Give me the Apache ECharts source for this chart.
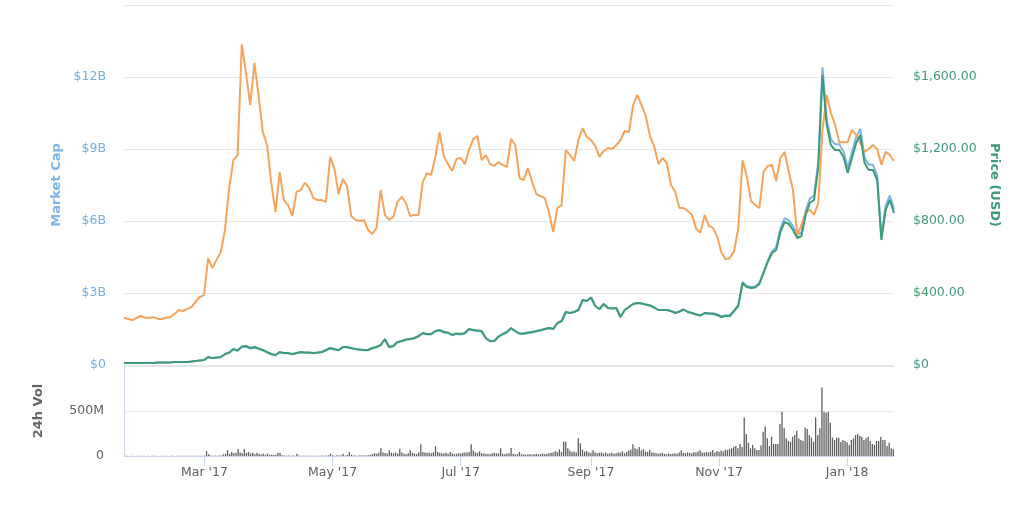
<!DOCTYPE html>
<html><head><meta charset="utf-8">
<script src="https://cdn.jsdelivr.net/npm/echarts@6/dist/echarts.min.js"></script>
<style>html,body{margin:0;padding:0;background:#fff}#chart{width:1024px;height:511px}</style>
</head><body><div id="chart"></div>
<script>
// ---- data ----
const startDate = '2017-01-22';
const endDate = '2018-01-23';
const lineStepDays = 2;           // line samples every 2 days from startDate
const volStepDays = 1;            // volume bars every day from startDate
const monthNames = ['Jan','Feb','Mar','Apr','May','Jun','Jul','Aug','Sep','Oct','Nov','Dec'];

// Price (USD)
const priceUSD = [
11.1,11.1,11.1,11.1,11.1,11.1,11.1,11.1,13.9,13.9,
13.9,13.9,16.7,16.7,16.7,16.7,19.4,22.2,25.0,27.8,
44.4,38.9,41.7,44.4,61.1,69.4,88.9,80.6,102.8,105.6,
94.4,100,91.7,83.3,72.2,61.1,55.6,72.2,66.7,66.7,
61.1,66.7,72.2,69.4,69.4,66.7,69.4,72.2,83.3,94.4,
88.9,83.3,100,100,94.4,88.9,86.1,83.3,83.3,94.4,
100,111.1,144.4,100,105.6,127.8,133.3,141.7,144.4,150,
161.1,177.8,172.2,172.2,188.9,194.4,183.3,180.6,166.7,175,
172.2,177.8,200,194.4,191.7,188.9,150,133.3,133.3,158.3,
172.2,183.3,205.6,188.9,175,175,180.6,183.3,188.9,194.4,
200,205.6,200,233.3,244.4,294.4,288.9,294.4,305.6,361.1,
355.6,375,327.8,311.1,338.9,316.7,313.9,316.7,266.7,305.6,
322.2,338.9,344.4,341.7,336.1,330.6,319.4,305.6,305.6,305.6,
300,288.9,297.2,308.3,294.4,288.9,280.6,275,288.9,286.1,
283.3,277.8,266.7,272.2,272.2,300,327.8,455.6,433.3,427.8,
430.6,450,511.1,572.2,622.2,638.9,738.9,794.4,783.3,750,
705.6,716.7,833.3,900,916.7,1100,1611.1,1333.3,1222.2,1194.4,
1194.4,1155.6,1066.7,1150,1233.3,1277.8,1122.2,1083.3,1083.3,1027.8,
694.4,861.1,916.7,844.4
];

// Market Cap (billions USD)
const marketCapB = [
0.081,0.081,0.081,0.081,0.081,0.081,0.081,0.081,0.101,0.101,
0.101,0.101,0.122,0.122,0.122,0.122,0.142,0.162,0.183,0.203,
0.324,0.284,0.304,0.324,0.446,0.507,0.649,0.588,0.75,0.771,
0.689,0.73,0.669,0.608,0.527,0.446,0.406,0.527,0.487,0.487,
0.446,0.487,0.527,0.507,0.507,0.487,0.507,0.527,0.608,0.689,
0.649,0.608,0.74,0.74,0.699,0.658,0.637,0.616,0.616,0.699,
0.74,0.822,1.069,0.74,0.781,0.946,0.986,1.049,1.069,1.11,
1.192,1.316,1.274,1.274,1.398,1.439,1.356,1.336,1.234,1.295,
1.274,1.316,1.48,1.439,1.419,1.398,1.11,0.986,0.986,1.171,
1.274,1.356,1.521,1.398,1.295,1.295,1.336,1.356,1.398,1.439,
1.5,1.542,1.5,1.75,1.833,2.208,2.167,2.208,2.292,2.708,
2.667,2.813,2.459,2.333,2.542,2.375,2.354,2.375,2.0,2.292,
2.417,2.542,2.583,2.563,2.521,2.48,2.396,2.292,2.292,2.292,
2.25,2.167,2.229,2.313,2.208,2.167,2.105,2.063,2.167,2.146,
2.153,2.111,2.027,2.069,2.069,2.28,2.491,3.463,3.293,3.251,
3.273,3.42,3.884,4.349,4.729,4.92,5.69,6.117,6.031,5.775,
5.433,5.519,6.416,6.93,7.059,8.47,12.405,10.267,9.411,9.197,
9.197,8.898,8.214,8.855,9.497,9.839,8.641,8.341,8.341,7.914,
5.347,6.63,7.059,6.502
];

// Price (BTC) – drawn on a hidden axis
const priceBTC = [
0.0131,0.0128,0.0125,0.0131,0.0136,0.0131,0.0131,0.0133,0.0128,0.0128,
0.0131,0.0133,0.0142,0.0153,0.0150,0.0156,0.0161,0.0175,0.0189,0.0194,
0.0297,0.0269,0.0292,0.0314,0.0375,0.0492,0.0569,0.0583,0.0890,0.0811,
0.0722,0.0839,0.0747,0.0647,0.0611,0.0506,0.0425,0.0536,0.0458,0.0444,
0.0414,0.0481,0.0486,0.0506,0.0492,0.0464,0.0458,0.0458,0.0453,0.0578,
0.0547,0.0475,0.0517,0.0497,0.0414,0.0403,0.0400,0.0403,0.0375,0.0364,
0.0381,0.0486,0.0417,0.0403,0.0411,0.0453,0.0467,0.0450,0.0414,0.0417,
0.0417,0.0508,0.0533,0.0528,0.0578,0.0647,0.0581,0.0558,0.0539,0.0572,
0.0575,0.0558,0.0597,0.0628,0.0636,0.0569,0.0583,0.0558,0.0553,0.0564,
0.0556,0.0550,0.0628,0.0611,0.0519,0.0514,0.0547,0.0508,0.0475,0.0469,
0.0464,0.0425,0.0369,0.0436,0.0444,0.0597,0.0583,0.0567,0.0625,0.0658,
0.0633,0.0625,0.0608,0.0578,0.0594,0.0603,0.0600,0.0611,0.0625,0.0650,
0.0647,0.0722,0.0750,0.0722,0.0692,0.0636,0.0608,0.0558,0.0575,0.0561,
0.0500,0.0481,0.0436,0.0436,0.0428,0.0417,0.0378,0.0367,0.0417,0.0386,
0.0381,0.0356,0.0311,0.0294,0.0297,0.0317,0.0381,0.0569,0.0525,0.0456,
0.0444,0.0436,0.0536,0.0553,0.0556,0.0511,0.0575,0.0592,0.0536,0.0486,
0.0361,0.0389,0.0425,0.0431,0.0417,0.0450,0.0653,0.0750,0.0700,0.0667,
0.0619,0.0619,0.0619,0.0653,0.0639,0.0617,0.0592,0.0600,0.0611,0.0600,
0.0556,0.0592,0.0583,0.0567
];

// 24h Volume (millions USD), one per day
const volume24hM = [
1,2,1,2,1,1,2,2,1,2, 1,2,1,2,2,2,1,1,2,2, 2,1,2,2,1,2,3,2,2,3, 2,2,3,3,2,3,3,3,
4,55,20,5,4,5,3,5,6,
18,25,63,22,44,30,35,78,40,30, 78,35,44,28,37,20,37,22,18,26, 14,26,12,15,10,14,37,37,
8,5,4,6,3,5,4,26,5,3, 3,4,3,3,4,3,3,4,3,5, 4,6,
8,26,6,4,8,5,7,26,6,10, 44,14,6,5,4,7,5,6,8,9, 12,
22,30,25,35,89,40,33,28,63,35, 30,38,28,81,40,25,20,30,63,35, 28,22,40,
130,45,40,35,38,30,42,110,45,35,
30,28,35,25,44,30,22,25,30,28,
35,40,38,45,130,60,40,35,52,30,
28,22,25,20,30,35,28,30,85,25,
20,28,30,90,25,18,22,44,20,18,
15,18,22,15,20,25,18,22,28,20,
25,30,35,40,55,45,
74,45,159,159,85,60,45,50,40,196, 141,70,48,55,40,35,63,40,30,
35,40,30,38,25,30,35,25,30,40,
35,52,30,45,60,70,130,85,74,100,
60,75,50,45,70,40,35,30,25,30,
35,25,20,28,22,25,30,25,40,63,
35,30,40,35,30,45,38,50,63,40,
35,45,40,48,67,40,55,45,60,50,
70,65,75,
85,100,111,85,133,100,429,244,148,85,
122,85,67,67,118,270,330,196,111,215,
133,133,133,355,492,307,196,170,159,215,
233,281,196,178,167,318,300,233,204,159,
429,233,307,762,492,481,492,370,207,178,
204,204,155,178,167,152,122,178,196,233,
244,222,215,178,196,215,167,133,122,167,
167,215,178,178,111,148,85,74
];

// ---- chart ----
const DAY = 24 * 3600 * 1000;
function dayString(offset) {
  const p = startDate.split('-').map(Number);
  const d = new Date(Date.UTC(p[0], p[1] - 1, p[2] + offset));
  return d.toISOString().slice(0, 10);
}
const lineDates = priceUSD.map((_, i) => dayString(i * lineStepDays));
const volDates = volume24hM.map((_, i) => dayString(i * volStepDays));

const FONT = 'DejaVu Sans';
const BLUE = '#7cb5ec', GREEN = '#3f9b76', ORANGE = '#f7a35c';
const labelLift = { verticalAlign: 'middle', padding: [0, 0, 14, 0] };

const chart = echarts.init(document.getElementById('chart'));
chart.setOption({
  animation: false,
  textStyle: { fontFamily: FONT },
  grid: [
    { left: 124, width: 770, top: 5, height: 360 },
    { left: 124, width: 770, top: 366, height: 90 }
  ],
  xAxis: [
    { type: 'time', gridIndex: 0, min: startDate, max: endDate, show: false },
    { type: 'time', gridIndex: 1, min: startDate, max: endDate,
      splitNumber: 5, minInterval: 60 * DAY, maxInterval: 80 * DAY,
      axisLine: { lineStyle: { color: '#ccd6eb' } },
      axisTick: { show: true, length: 10, lineStyle: { color: '#ccd6eb' } },
      splitLine: { show: false },
      axisLabel: { color: '#606060', fontSize: 12.5, margin: 10, fontFamily: FONT,
        formatter: v => { const d = new Date(v); return monthNames[d.getMonth()] + " '" + String(d.getFullYear()).slice(2); } } }
  ],
  yAxis: [
    { type: 'value', gridIndex: 0, position: 'left', min: 0, max: 15, interval: 3,
      name: 'Market Cap', nameLocation: 'middle', nameGap: 60,
      nameTextStyle: { color: BLUE, fontWeight: 'bold', fontSize: 13, fontFamily: FONT },
      axisLine: { show: false }, axisTick: { show: false },
      splitLine: { lineStyle: { color: '#e6e6e6' } },
      axisLabel: Object.assign({ color: '#72b0e8', fontSize: 12.5, margin: 18, fontFamily: FONT,
        formatter: v => v === 15 ? '' : (v === 0 ? '$0' : '$' + v + 'B') }, labelLift) },
    { type: 'value', gridIndex: 0, position: 'right', min: 0, max: 2000, interval: 400,
      name: 'Price (USD)', nameLocation: 'middle', nameGap: 94, nameRotate: -90,
      nameTextStyle: { color: GREEN, fontWeight: 'bold', fontSize: 13, fontFamily: FONT },
      axisLine: { show: false }, axisTick: { show: false }, splitLine: { show: false },
      axisLabel: Object.assign({ color: '#3f9b76', fontSize: 12.5, margin: 19, fontFamily: FONT,
        formatter: v => v === 2000 ? '' : (v === 0 ? '$0' : '$' + v.toLocaleString('en-US', { minimumFractionDigits: 2, maximumFractionDigits: 2 })) }, labelLift) },
    { type: 'value', gridIndex: 0, min: 0, max: 0.1, show: false },
    { type: 'value', gridIndex: 1, position: 'left', min: 0, max: 1000, interval: 500,
      name: '24h Vol', nameLocation: 'middle', nameGap: 79,
      nameTextStyle: { color: '#666', fontWeight: 'bold', fontSize: 13, fontFamily: FONT },
      axisLine: { show: true, lineStyle: { color: '#ccd6eb' } }, axisTick: { show: false },
      splitLine: { lineStyle: { color: '#e6e6e6' } },
      axisLabel: Object.assign({ color: '#606060', fontSize: 12.5, margin: 20, fontFamily: FONT,
        formatter: v => v === 1000 ? '' : (v === 0 ? '0' : v + 'M') }, labelLift) }
  ],
  series: [
    { name: 'Market Cap', type: 'line', xAxisIndex: 0, yAxisIndex: 0, symbol: 'none',
      lineStyle: { width: 2, color: BLUE }, itemStyle: { color: BLUE },
      data: lineDates.map((d, i) => [d, marketCapB[i]]) },
    { name: 'Price (BTC)', type: 'line', xAxisIndex: 0, yAxisIndex: 2, symbol: 'none',
      lineStyle: { width: 2, color: ORANGE }, itemStyle: { color: ORANGE },
      data: lineDates.map((d, i) => [d, priceBTC[i]]) },
    { name: 'Price (USD)', type: 'line', xAxisIndex: 0, yAxisIndex: 1, symbol: 'none',
      lineStyle: { width: 2, color: GREEN }, itemStyle: { color: GREEN },
      data: lineDates.map((d, i) => [d, priceUSD[i]]) },
    { name: '24h Vol', type: 'bar', xAxisIndex: 1, yAxisIndex: 3, barWidth: 1.3,
      itemStyle: { color: '#5e5e5e' },
      data: volDates.map((d, i) => [d, volume24hM[i]]) }
  ]
});
</script>
</body></html>
